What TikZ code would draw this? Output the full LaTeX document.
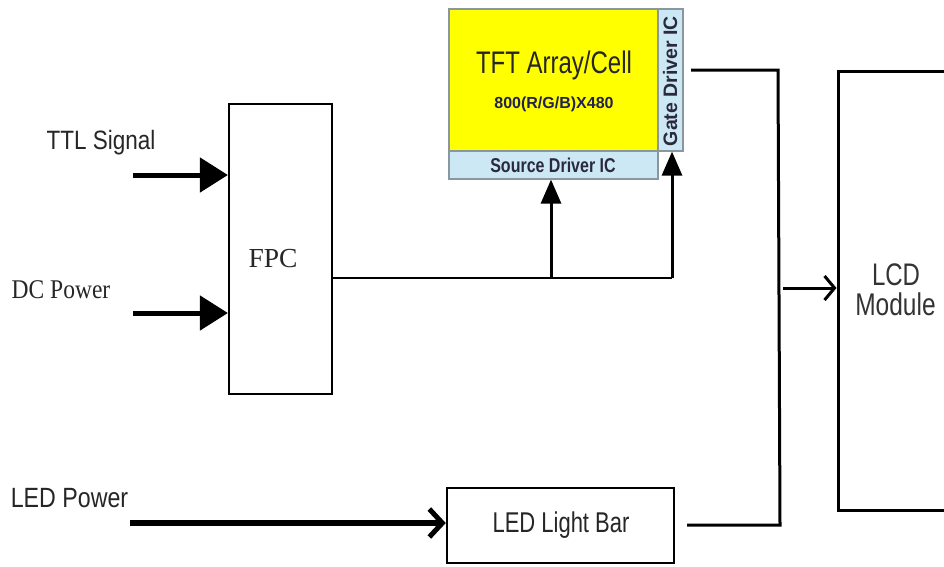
\documentclass[tikz,border=0pt]{standalone}
\usepackage{graphicx}
\usepackage{fontspec}
\setmainfont{Liberation Serif}
\setsansfont{Liberation Sans}
\usetikzlibrary{arrows.meta}
\definecolor{tftyellow}{HTML}{FFFF00}
\definecolor{icblue}{HTML}{CDE8F5}
\definecolor{icborder}{HTML}{8A96A0}
\definecolor{ictext}{HTML}{2A2A3C}
\definecolor{navytext}{HTML}{222250}
\newcommand{\fs}[1]{\fontsize{#1}{#1}\selectfont}
\newcommand{\vstretch}[2]{\scalebox{1}[#1]{#2}}
\tikzset{
  blk/.style={draw=black, line width=2.2pt, rectangle, inner sep=0pt, fill=white},
  icstrip/.style={draw=icborder, line width=1.2pt, rectangle, inner sep=0pt, fill=icblue},
  lbl/.style={inner sep=0pt, anchor=base, text=black!85},
  bigarrow/.style={line width=5pt, -{Triangle[length=28pt, width=34pt]}},
  uparrow/.style={line width=3pt, -{Triangle[length=24pt, width=20pt]}},
  barbarrow/.style={line width=6pt, -{Straight Barb[length=13pt, width=28pt, line width=5pt]}},
  thinbarb/.style={line width=3pt, -{Straight Barb[length=10pt, width=24pt, line width=3pt]}},
  wire/.style={line width=3pt},
}
\begin{document}
\begin{tikzpicture}[x=1pt, y=-1pt]
\useasboundingbox (0,0) rectangle (944,566);
\clip (0,0) rectangle (944,566);
\fill[white] (0,0) rectangle (944,566);

% TFT panel
\node[icstrip, fill=tftyellow, minimum width=209pt, minimum height=142pt] (tft) at (553.5,80) {};
\node[icstrip, minimum width=209pt, minimum height=28pt] (src) at (553.5,165) {};
\node[icstrip, minimum width=25pt, minimum height=142pt] (gate) at (670.5,80) {};
\node[lbl, font=\sffamily\fs{24}] (tfttitle) at (554,73) {\vstretch{1.3}{TFT Array/Cell}};
\node[lbl, font=\sffamily\bfseries\fs{16}, text=navytext] (tftres) at (554,108) {800(R/G/B)X480};
\node[lbl, font=\sffamily\bfseries\fs{16}, text=ictext] (srctext) at (553,172) {\vstretch{1.25}{Source Driver IC}};
\node[lbl, font=\sffamily\bfseries\fs{19.5}, text=ictext, rotate=90] (gatetext) at (677,81) {Gate Driver IC};

% FPC
\node[blk, minimum width=103pt, minimum height=290pt] (fpc) at (280.5,249) {};
\node[lbl, font=\rmfamily\fs{27.5}] (fpctext) at (273,267) {FPC};

% LED light bar
\node[blk, line width=2.5pt, minimum width=227pt, minimum height=75pt] (led) at (560.5,525.5) {};
\node[lbl, font=\sffamily\fs{22}] (ledtext) at (561,532) {\vstretch{1.3}{LED Light Bar}};

% LCD module (right part cut off by the page edge)
\node[blk, line width=3pt, minimum width=240pt, minimum height=439pt] (lcd) at (958,290.5) {};
\node[lbl, font=\sffamily\fs{24}, text=black!80] (lcdtext) at (896,285) {\vstretch{1.3}{LCD}};
\node[lbl, font=\sffamily\fs{24.5}, text=black!80] (modtext) at (895.5,315) {\vstretch{1.28}{Module}};

% input labels
\node[lbl, font=\sffamily\fs{22.5}] (ttl) at (101,149) {\vstretch{1.18}{TTL Signal}};
\node[lbl, font=\rmfamily\fs{23.5}] (dc) at (61,298) {\vstretch{1.15}{DC Power}};
\node[lbl, font=\sffamily\fs{23.2}] (ledp) at (69.5,507) {\vstretch{1.2}{LED Power}};

% input arrows
\coordinate (ttlin) at (133,175);
\coordinate (dcin) at (133,313);
\coordinate (ledin) at (130,523);
\draw[bigarrow] (ttlin) -- (fpc.west |- ttlin);
\draw[bigarrow] (dcin) -- (fpc.west |- dcin);
\draw[barbarrow] (ledin) -- (led.west |- ledin);

% FPC to drivers
\coordinate (j1) at (551,278);
\coordinate (j2) at (672,278);
\draw[line width=2.5pt] (fpc.east |- j2) -- (j2);
\draw[uparrow] (j1) -- (src.south -| j1);
\draw[uparrow] (j2) -- (gate.south -| j2);

% bus to LCD module
\coordinate (tftout) at (691,70);
\coordinate (bustop) at (778,70);
\coordinate (busbot) at (780,525);
\coordinate (ledout) at (687,525);
\coordinate (busmid) at (783,288);
\draw[wire] (tftout) -- (bustop) -- (busbot) -- (ledout);
\draw[thinbarb] (busmid) -- (lcd.west |- busmid);
\end{tikzpicture}
\end{document}
